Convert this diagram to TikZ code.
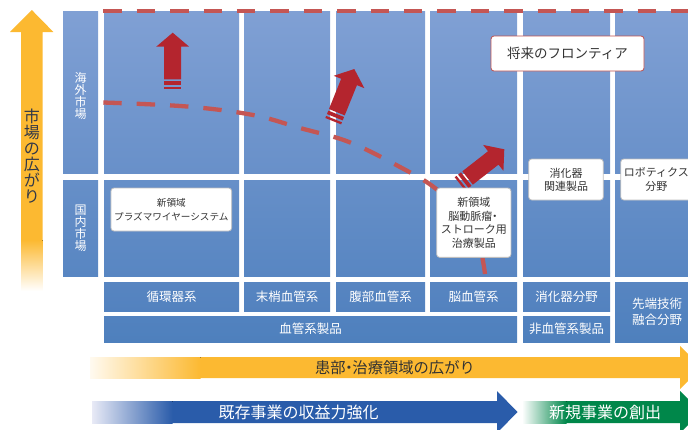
\documentclass[tikz,border=0pt]{standalone}
\usepackage{fontspec}
\setmainfont{Noto Sans CJK JP}
\definecolor{pA}{RGB}{128,160,212}
\definecolor{pB}{RGB}{104,144,201}
\definecolor{pC}{RGB}{102,143,200}
\definecolor{pD}{RGB}{88,134,194}
\definecolor{pE}{RGB}{87,133,193}
\definecolor{pF}{RGB}{83,130,191}
\definecolor{pG}{RGB}{82,130,191}
\definecolor{pH}{RGB}{78,128,189}
\definecolor{oA}{RGB}{252,185,49}
\definecolor{oLight}{RGB}{255,250,240}
\definecolor{bA}{RGB}{42,92,170}
\definecolor{bLight}{RGB}{232,234,246}
\definecolor{gA}{RGB}{0,135,74}
\definecolor{arrowred}{RGB}{180,37,46}
\definecolor{dashred}{RGB}{196,86,84}
\definecolor{boxgray}{RGB}{190,190,190}
\definecolor{frontred}{RGB}{192,80,77}
\definecolor{txtdark}{RGB}{51,51,51}
\definecolor{txtnavy}{RGB}{50,56,72}
\newcommand\tightls{\lineskiplimit=-5pt\relax}
\newcommand\ndot{\kern-0.28em・\kern-0.28em}
\tikzset{
  panel/.style={rectangle, inner sep=0pt, outer sep=0pt, text=white, align=center,
    font=\fontsize{12.5}{16}\selectfont\tightls},
  wbox/.style={rectangle, rounded corners=3pt, fill=white, draw=boxgray, line width=0.8pt,
    inner sep=0pt, text=txtdark, align=center},
  reddash/.style={draw=dashred, line width=4.3pt, dash pattern=on 18.4pt off 15pt},
  vtext/.style={align=center, inner sep=0pt},
}
\newcommand\mypanel[8]{\node[panel, top color=#6, bottom color=#7,
  minimum width={(#4)-(#2)}, minimum height={(#5)-(#3)}]
  (#1) at ({((#2)+(#4))/2},{((#3)+(#5))/2}) {#8};}
\newcommand\redarrow[3]{%
  \begin{scope}[shift={(#1,#2)}, rotate=#3]
    \fill[arrowred] (0,0) -- (-14,16.5) -- (-14,8.5) -- (-46.6,8.5) -- (-46.6,-8.5)
      -- (-14,-8.5) -- (-14,-16.5) -- cycle;
    \fill[arrowred] (-48.3,-8.5) rectangle (-52,8.5);
    \fill[arrowred] (-54,-8.5) rectangle (-56.3,8.5);
  \end{scope}}
\begin{document}
\begin{tikzpicture}[x=1pt, y=-1pt]
\useasboundingbox (0,0) rectangle (688,429);
\clip (0,0) rectangle (688,429);
% left vertical arrow
\fill[oA] (10,32) -- (31.8,10) -- (53.4,32) -- (42.7,32) -- (42.7,243) -- (21,243) -- (21,32) -- cycle;
\fill[top color=oA, bottom color=white] (21,240) rectangle (42.7,291);
\node[vtext, text=txtnavy, font=\fontsize{16}{16}\selectfont\tightls] (tMarket) at (31.8,156) {市\\場\\の\\広\\が\\り};
% panels
\mypanel{lblU}{63}{11}{98}{173}{pA}{pB}{}
\mypanel{u1}{104}{11}{239}{173}{pA}{pB}{}
\mypanel{u2}{244}{11}{330}{173}{pA}{pB}{}
\mypanel{u3}{336}{11}{425}{173}{pA}{pB}{}
\mypanel{u4}{430}{11}{517}{173}{pA}{pB}{}
\mypanel{u5}{523}{11}{610}{173}{pA}{pB}{}
\mypanel{u6}{615}{11}{692}{173}{pA}{pB}{}
\mypanel{lblL}{63}{180}{98}{276}{pC}{pD}{}
\mypanel{l1}{104}{180}{239}{276}{pC}{pD}{}
\mypanel{l2}{244}{180}{330}{276}{pC}{pD}{}
\mypanel{l3}{336}{180}{425}{276}{pC}{pD}{}
\mypanel{l4}{430}{180}{517}{276}{pC}{pD}{}
\mypanel{l5}{523}{180}{610}{276}{pC}{pD}{}
\mypanel{l6}{615}{180}{692}{276}{pC}{pD}{}
\mypanel{k1}{104}{282}{239}{311}{pE}{pF}{循環器系}
\mypanel{k2}{244}{282}{330}{311}{pE}{pF}{末梢血管系}
\mypanel{k3}{336}{282}{425}{311}{pE}{pF}{腹部血管系}
\mypanel{k4}{430}{282}{517}{311}{pE}{pF}{脳血管系}
\mypanel{k5}{523}{282}{610}{311}{pE}{pF}{消化器分野}
\mypanel{k6}{615}{282}{699}{342}{pE}{pH}{先端技術\\融合分野}
\mypanel{b1}{104}{316}{517}{342}{pG}{pH}{血管系製品}
\mypanel{b2}{523}{316}{610}{342}{pG}{pH}{非血管系製品}
\node[vtext, text=white, font=\fontsize{12}{12}\selectfont\tightls] (tOver) at (80.5,96) {海\\外\\市\\場};
\node[vtext, text=white, font=\fontsize{12}{12}\selectfont\tightls] (tDom) at (80.5,228) {国\\内\\市\\場};
% dashed lines
\draw[reddash] (103.3,11) -- (690,11);
\draw[reddash] plot[smooth, tension=0.6] coordinates {(103.3,102.5) (187,106.5) (253,115) (300,128) (349,142) (400,167) (435,188) (463,216) (479,245) (485,274)};
% red arrows
\redarrow{172.7}{32.7}{90}
\redarrow{354.3}{69}{68}
\redarrow{504.3}{149.3}{38}
% white boxes
\node[wbox, draw=frontred, minimum width=153pt, minimum height=35pt, font=\fontsize{13.5}{16}\selectfont] (front) at (567.5,53.5) {将来のフロンティア};
\node[wbox, minimum width=120.7pt, minimum height=43pt, font=\fontsize{9.6}{13.7}\selectfont\tightls] (plasma) at (171.3,209.5) {新領域\\プラズマワイヤーシステム};
\node[wbox, minimum width=74.3pt, minimum height=69.3pt, font=\fontsize{11}{13.7}\selectfont\tightls] (brain) at (473.8,222.7) {新領域\\脳動脈瘤\kern-0.28em・\kern-0.1em\\ストローク用\\治療製品};
\node[wbox, minimum width=74.6pt, minimum height=41pt, font=\fontsize{11}{13.3}\selectfont\tightls] (digest) at (566,179.5) {消化器\\関連製品};
\node[wbox, minimum width=71.3pt, minimum height=41pt, font=\fontsize{11}{13.3}\selectfont\tightls] (robot) at (656.4,179.5) {ロボティクス\\分野};
% bottom orange arrow
\fill[oA] (195,357) -- (680,357) -- (680,346) -- (702,367.5) -- (680,389) -- (680,378) -- (195,378) -- cycle;
\fill[left color=oLight, right color=oA] (90,357) rectangle (200.5,378);
\node[text=txtdark, font=\fontsize{15.3}{18}\selectfont, inner sep=0pt] (tArea) at (395,367.5) {患部\ndot 治療領域の広がり};
% blue arrow
\fill[bA] (167,401) -- (497,401) -- (497,391) -- (517.5,412) -- (497,433) -- (497,423) -- (167,423) -- cycle;
\fill[left color=bLight, right color=bA] (92,401) rectangle (172.5,423);
\node[text=white, font=\fontsize{16}{18}\selectfont, inner sep=0pt] (tExist) at (298.5,412) {既存事業の収益力強化};
% green arrow
\fill[gA] (561,401) -- (680,401) -- (680,391) -- (701,412) -- (680,433) -- (680,423) -- (561,423) -- cycle;
\fill[left color=white, right color=gA] (522,401) rectangle (566.5,423);
\node[text=white, font=\fontsize{16}{18}\selectfont, inner sep=0pt] (tNew) at (605,412) {新規事業の創出};
\end{tikzpicture}
\end{document}
